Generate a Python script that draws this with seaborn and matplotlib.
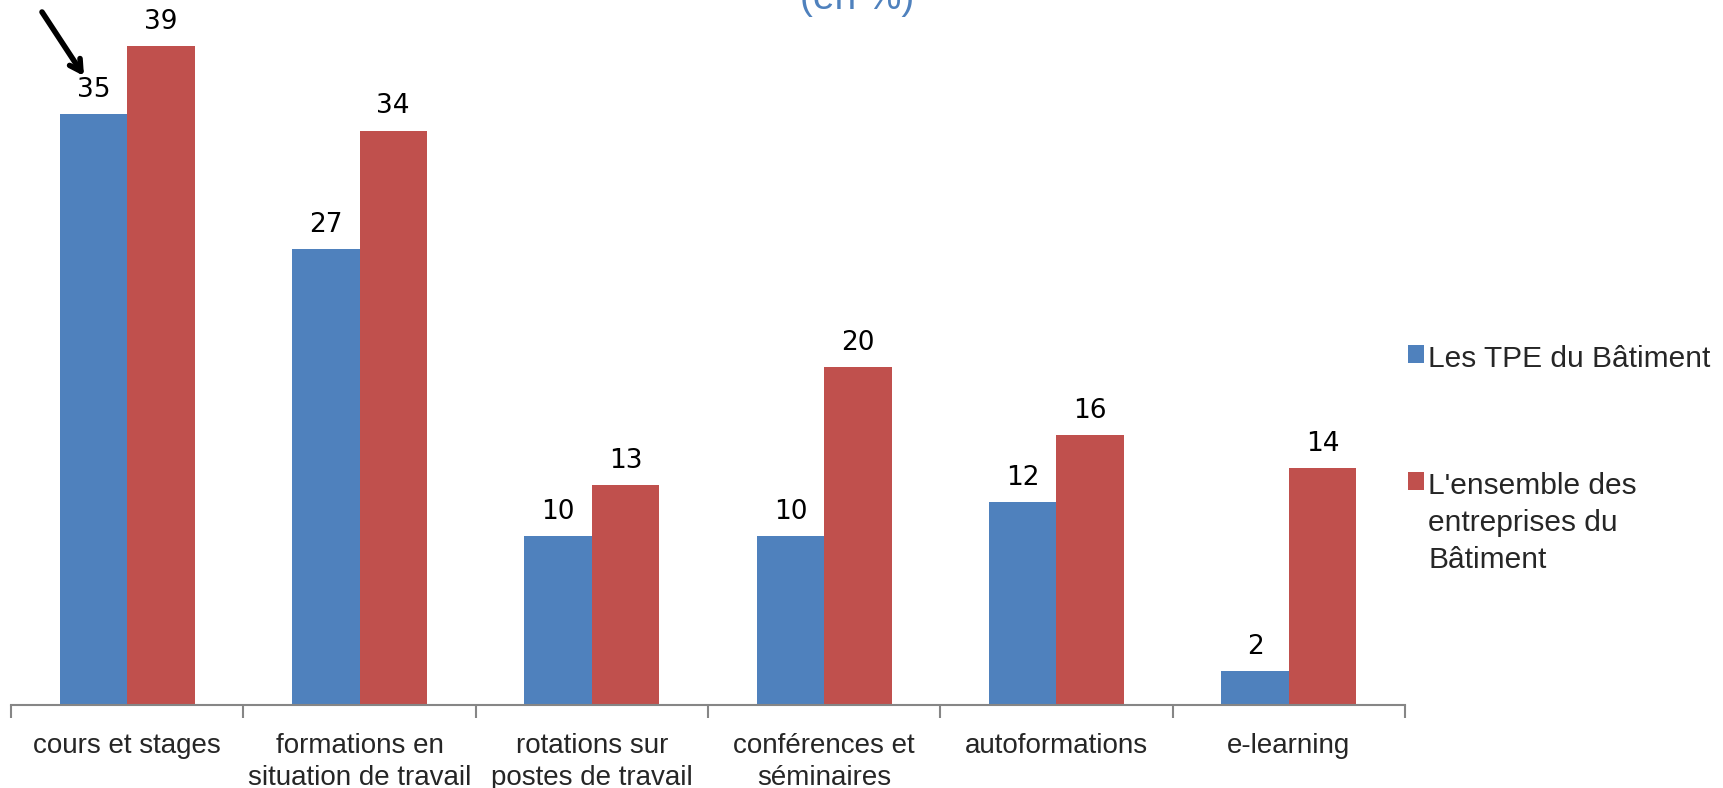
import matplotlib
matplotlib.use("Agg")
import matplotlib.pyplot as plt
import seaborn as sns
import pandas as pd
from matplotlib.ticker import FixedLocator

categories = ["cours et stages", "formations en\nsituation de travail", "rotations sur\npostes de travail",
              "conférences et\nséminaires", "autoformations", "e-learning"]
series_names = ["Les TPE du Bâtiment", "L'ensemble des\nentreprises du\nBâtiment"]
tpe_values = [35, 27, 10, 10, 12, 2]
all_values = [39, 34, 13, 20, 16, 14]
colors = ["#4F81BD", "#C0504D"]

df = pd.DataFrame({
    "cat": categories * 2,
    "serie": [series_names[0]] * len(categories) + [series_names[1]] * len(categories),
    "val": tpe_values + all_values,
})

sns.set_style("white")
fig = plt.figure(figsize=(17.23, 7.88), dpi=100)
ax = fig.add_axes([11 / 1723, 83 / 788, (1405 - 11) / 1723, 705 / 788])

sns.barplot(data=df, x="cat", y="val", hue="serie", palette=colors, width=0.58,
            gap=0, linewidth=0, saturation=1, ax=ax, order=categories,
            hue_order=series_names)

ax.set_xlim(-0.5, len(categories) - 0.5)
ax.set_ylim(0, 41.73)
for s in ["top", "left", "right"]:
    ax.spines[s].set_visible(False)
ax.spines["bottom"].set_color("#868686")
ax.spines["bottom"].set_linewidth(1.5)
ax.set_yticks([])
ax.set_xlabel("")
ax.set_ylabel("")

ax.xaxis.set_minor_locator(FixedLocator([i - 0.5 for i in range(len(categories) + 1)]))
ax.tick_params(axis="x", which="major", length=0, pad=20.5)
ax.tick_params(axis="x", which="minor", length=9, width=1.5, color="#868686", bottom=True)
for lab in ax.get_xticklabels():
    lab.set_fontfamily(["Liberation Sans Narrow", "Liberation Sans", "DejaVu Sans"])
    lab.set_fontsize(20)
    lab.set_linespacing(1.3)

for cont in ax.containers:
    ax.bar_label(cont, fmt="%d", padding=8, fontsize=19, family="DejaVu Sans", color="black")

leg = ax.legend(loc="upper left", bbox_to_anchor=(1408 / 1723, 1 - 345 / 788),
                bbox_transform=fig.transFigure, frameon=False,
                prop={"family": ["Liberation Sans", "DejaVu Sans"], "size": 21.5},
                handlelength=0.55, handleheight=0.55, handletextpad=0.12,
                labelspacing=3.33, borderpad=0, borderaxespad=0)
for col in leg._legend_handle_box.get_children():
    for entry in col.get_children():
        entry.align = "top"
for t in leg.get_texts():
    t.set_linespacing(1.4)

fig.text(857 / 1723, 1 - 9 / 788, "(en %)", ha="center", va="baseline",
         fontsize=28, color="#4F81BD", family=["Liberation Sans", "DejaVu Sans"])

ax.annotate("", xy=(84 / 1723, 1 - 76 / 788), xytext=(42 / 1723, 1 - 12 / 788),
            xycoords="figure fraction", textcoords="figure fraction",
            arrowprops=dict(arrowstyle="->,head_length=0.8,head_width=0.45",
                            lw=4, color="black", shrinkA=0, shrinkB=0))

fig.savefig("out.png", dpi=100)
